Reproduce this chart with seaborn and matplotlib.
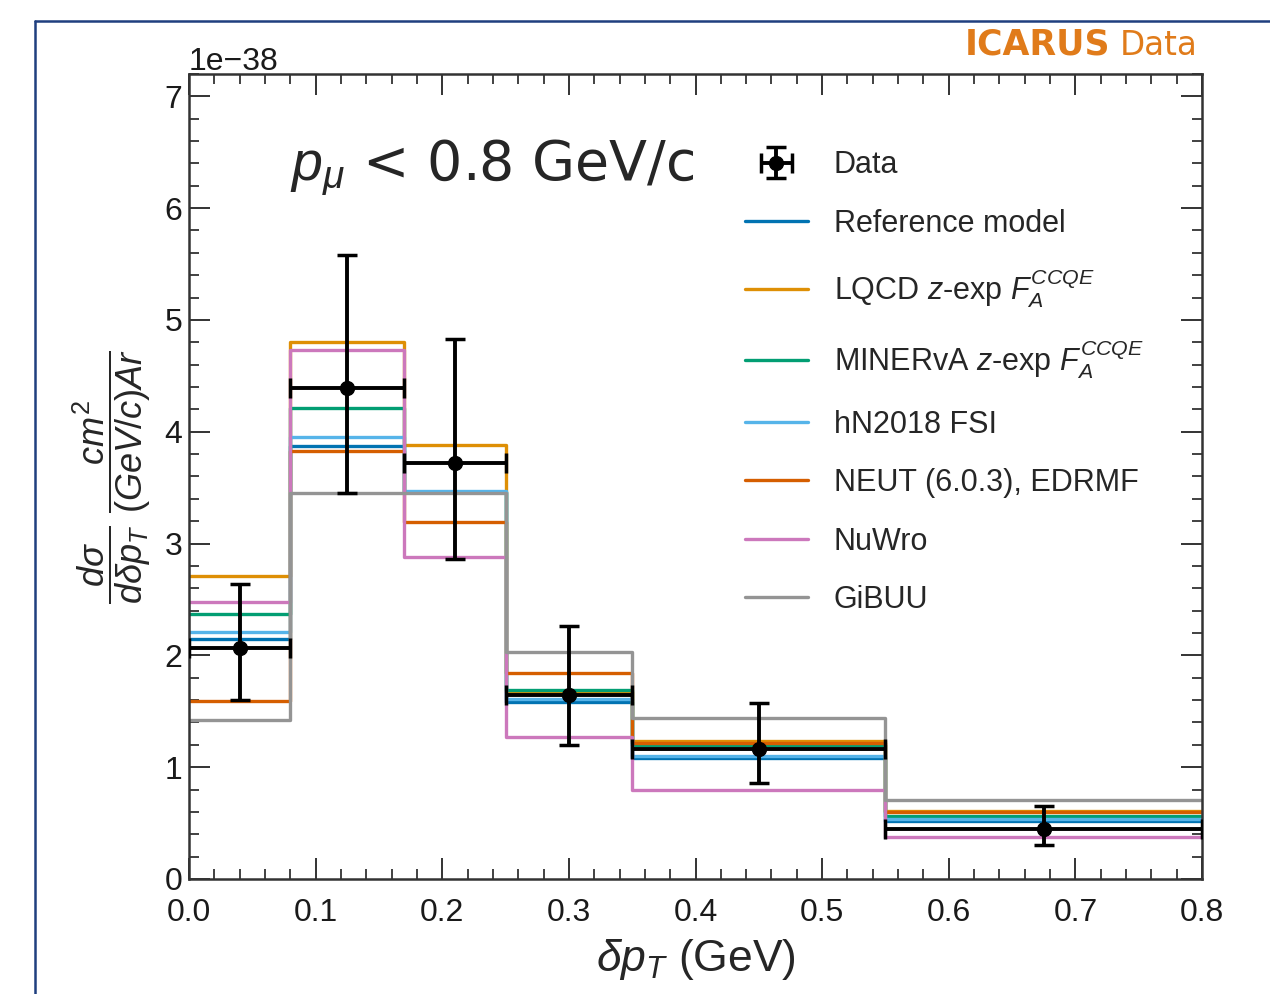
import numpy as np
import pandas as pd
import matplotlib
matplotlib.use("Agg")
import matplotlib.pyplot as plt
from matplotlib.lines import Line2D
from matplotlib.ticker import MultipleLocator
import seaborn as sns

# bin edges in delta p_T (GeV)
edges = [0.0, 0.08, 0.17, 0.25, 0.35, 0.55, 0.8]

# cross sections, units of 1e-38
data_y = [2.07, 4.39, 3.72, 1.65, 1.16, 0.45]
data_up = [0.57, 1.19, 1.11, 0.61, 0.41, 0.20]
data_down = [0.47, 0.94, 0.86, 0.45, 0.30, 0.15]

reference = [2.15, 3.87, 3.46, 1.58, 1.08, 0.52]
lqcd = [2.71, 4.80, 3.88, 1.67, 1.23, 0.61]
minerva = [2.37, 4.21, 3.46, 1.69, 1.20, 0.56]
hn2018 = [2.21, 3.95, 3.47, 1.61, 1.10, 0.54]
neut = [1.59, 3.83, 3.19, 1.84, 1.22, 0.60]
nuwro = [2.48, 4.73, 2.88, 1.27, 0.80, 0.38]
gibuu = [1.42, 3.45, 3.45, 2.03, 1.44, 0.71]

labels = ["Reference model",
          r"LQCD $z$-exp $F_A^{CCQE}$",
          r"MINERvA $z$-exp $F_A^{CCQE}$",
          "hN2018 FSI",
          "NEUT (6.0.3), EDRMF",
          "NuWro",
          "GiBUU"]

sns.set_theme(style="ticks")
plt.rcParams["font.family"] = ["Liberation Sans", "DejaVu Sans"]
plt.rcParams["mathtext.fontset"] = "custom"
plt.rcParams["mathtext.rm"] = "Liberation Sans"
plt.rcParams["mathtext.it"] = "Liberation Sans:italic"
plt.rcParams["mathtext.bf"] = "Liberation Sans:bold"

cb = sns.color_palette("colorblind")
colors = [cb[0], cb[1], cb[2], cb[9], cb[3], cb[4], cb[7]]

edge_arr = np.array(edges)
centers = (edge_arr[:-1] + edge_arr[1:]) / 2
halfw = (edge_arr[1:] - edge_arr[:-1]) / 2
scale = 1e-38

fig = plt.figure(figsize=(12.7, 9.94), dpi=100)
ax = fig.add_axes([0.1488, 0.1157, 0.7977, 0.8099])

models = [reference, lqcd, minerva, hn2018, neut, nuwro, gibuu]
for vals, col in zip(models, colors):
    df = pd.DataFrame({"x": centers, "w": np.array(vals) * scale})
    sns.histplot(data=df, x="x", weights="w", bins=list(edges),
                 element="step", fill=False, color=col, linewidth=2.4, ax=ax)

ax.errorbar(centers, np.array(data_y) * scale, xerr=halfw,
            yerr=[np.array(data_down) * scale, np.array(data_up) * scale],
            fmt="o", color="black", ms=10, lw=2.8, capsize=7, capthick=2.5,
            zorder=10)

ax.set_xlim(0, 0.8)
ax.set_ylim(0, 7.2e-38)
ax.xaxis.set_major_locator(MultipleLocator(0.1))
ax.xaxis.set_minor_locator(MultipleLocator(0.02))
ax.yaxis.set_major_locator(MultipleLocator(1e-38))
ax.yaxis.set_minor_locator(MultipleLocator(0.2e-38))
ax.tick_params(which="both", direction="in", top=True, right=True,
               colors="#333333", labelcolor="#1a1a1a")
ax.tick_params(which="major", length=15, width=1.4, labelsize=23)
ax.tick_params(axis="x", which="major", pad=14)
ax.tick_params(axis="y", which="major", pad=5)
ax.tick_params(which="minor", length=7, width=1.3)
ax.yaxis.get_offset_text().set_fontsize(23)
for s in ax.spines.values():
    s.set_linewidth(1.8)
    s.set_color("#333333")

ax.set_xlabel(r"$\delta p_T$ (GeV)", fontsize=32, labelpad=6)
ax.set_ylabel(r"$\dfrac{d\sigma}{d\delta p_T}\ \dfrac{cm^2}{(GeV/c)Ar}$",
              fontsize=26, labelpad=8)

ax.text(0.10, 0.868, r"$p_\mu$ < 0.8 GeV/c", transform=ax.transAxes,
        fontsize=40, family=["DejaVu Sans"], va="baseline")

handles = [ax.containers[-1]]
handles += [Line2D([], [], color=c, lw=2.4) for c in colors]
ax.legend(handles, ["Data"] + labels, loc="upper left",
          bbox_to_anchor=(0.549, 0.905), frameon=False, fontsize=22,
          labelspacing=0.93, handlelength=2.05, handletextpad=0.85,
          borderaxespad=0, borderpad=0)

fig.text(0.874, 0.945, "ICARUS", color="#e07b1a", fontsize=25,
         fontweight="bold", ha="right", va="baseline",
         family=["DejaVu Sans"])
fig.text(0.9433, 0.945, "Data", color="#e07b1a", fontsize=23.5,
         ha="right", va="baseline", family=["DejaVu Sans"])

# blue frame around the slide
fig.add_artist(Line2D([0.0276, 1.0], [0.9789, 0.9789], color="#1f3f7f",
                      lw=1.8, transform=fig.transFigure))
fig.add_artist(Line2D([0.0276, 0.0276], [0.9789, 0.0], color="#1f3f7f",
                      lw=1.8, transform=fig.transFigure))

fig.savefig("out.png", dpi=100)
